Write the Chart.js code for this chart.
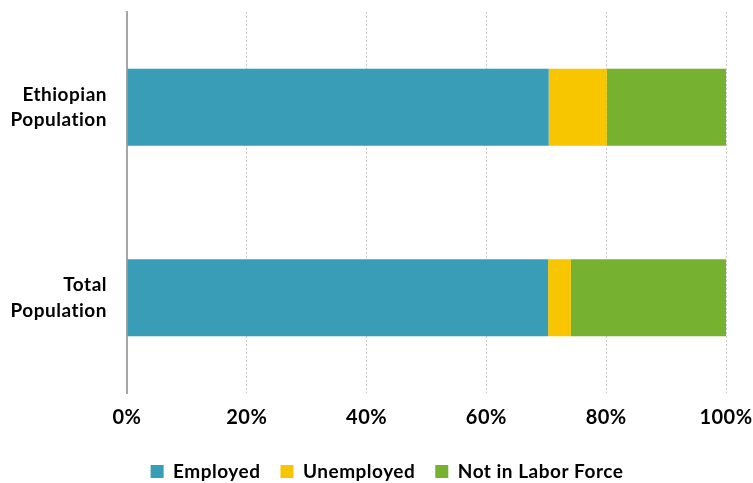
<!DOCTYPE html>
<html>
<head>
<meta charset="utf-8">
<script src="https://cdn.jsdelivr.net/npm/chart.js@4"></script>
<style>
  html, body { margin: 0; padding: 0; background: #fff; }
  #wrap { width: 753px; height: 483px; }
</style>
</head>
<body>
<div id="wrap"><canvas id="laborChart" width="753" height="483"></canvas></div>
<script>
// Données du graphique
const categories = [['Ethiopian', 'Population'], ['Total', 'Population']];
const employed = [70.4, 70.3];
const unemployed = [9.7, 3.8];
const notInLaborForce = [19.9, 25.9];
const xTicks = [0, 20, 40, 60, 80, 100];

const fontFamily = 'Lato, "Liberation Sans", sans-serif';

// Pas de ligatures "ti" (Lato) + un peu plus large
const noLigatures = {
    id: 'noLigatures',
    beforeDraw: (chart) => { chart.ctx.letterSpacing = '0.5px'; }
};

// Décaler la légende un peu vers la droite
const shiftLegend = {
    id: 'shiftLegend',
    afterLayout: (chart) => {
        chart.legend.left += 15;
        chart.legend.right += 15;
    }
};

const ctx = document.getElementById('laborChart').getContext('2d');
const laborChart = new Chart(ctx, {
    type: 'bar',
    data: {
        labels: categories,
        datasets: [
            { label: 'Employed', data: employed, backgroundColor: '#3A9DB8' },
            { label: 'Unemployed', data: unemployed, backgroundColor: '#F7C600' },
            { label: 'Not in Labor Force', data: notInLaborForce, backgroundColor: '#77B130' }
        ]
    },
    plugins: [noLigatures, shiftLegend],
    options: {
        indexAxis: 'y',
        responsive: false,
        animation: false,
        layout: { padding: { top: 12, right: 27, bottom: -8, left: 0 } },
        datasets: {
            bar: { barPercentage: 0.405, categoryPercentage: 1 }
        },
        scales: {
            x: {
                stacked: true,
                min: 0,
                max: 100,
                afterBuildTicks: (scale) => { scale.ticks = xTicks.map(v => ({ value: v })); },
                afterFit: (scale) => {
                    scale.height = 49;
                    scale.paddingLeft = 0;
                    scale.paddingRight = 0;
                },
                grid: {
                    color: '#c8c8c8',
                    lineWidth: 1,
                    drawTicks: false
                },
                border: { display: false, dash: [2, 2] },
                ticks: {
                    padding: 13,
                    color: '#000',
                    font: { family: fontFamily, size: 20, weight: 'bold' },
                    callback: (v) => v + '%'
                }
            },
            y: {
                stacked: true,
                afterFit: (scale) => {
                    scale.width = 127;
                    scale.paddingTop = 0;
                    scale.paddingBottom = 0;
                },
                grid: { display: false },
                border: { display: true, color: '#a6a6a6', width: 2 },
                ticks: {
                    padding: 12,
                    color: '#000',
                    font: { family: fontFamily, size: 19, weight: 'bold', lineHeight: 1.35 }
                }
            }
        },
        plugins: {
            legend: {
                position: 'bottom',
                labels: {
                    boxWidth: 13,
                    boxHeight: 13,
                    padding: 20,
                    color: '#000',
                    font: { family: fontFamily, size: 19, weight: 'bold' }
                }
            },
            tooltip: { enabled: false }
        }
    }
});
</script>
</body>
</html>
